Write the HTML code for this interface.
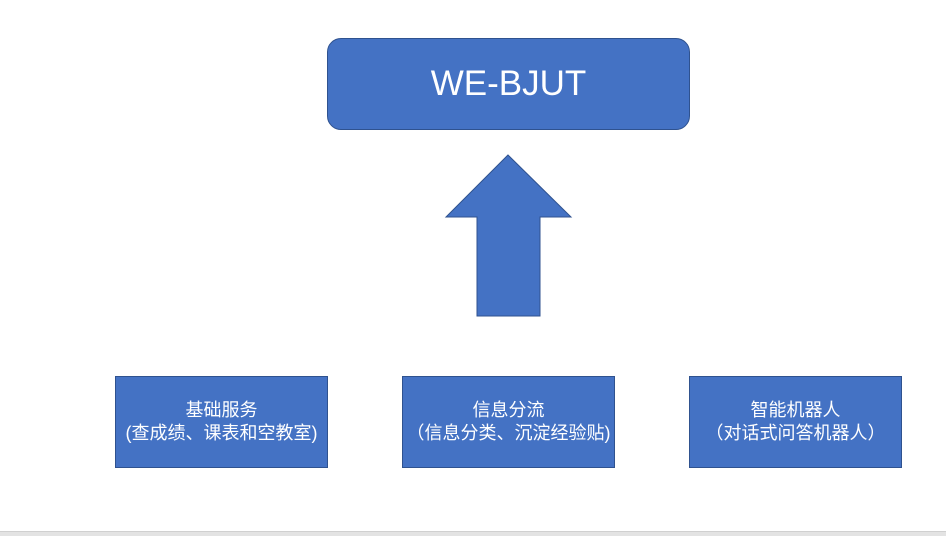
<!DOCTYPE html>
<html><head><meta charset="utf-8"><style>
body{margin:0;width:946px;height:535px;background:#fff;position:relative;overflow:hidden;font-family:"Liberation Sans","Noto Sans CJK SC",sans-serif}
.b{position:absolute;background:#4472c4;border:1px solid #2f528f;box-sizing:border-box;color:#fff;display:flex;align-items:center;justify-content:center;text-align:center}
.s{font-size:18px;line-height:23px;white-space:nowrap}
</style></head><body>
<div class="b" style="left:327px;top:38px;width:363px;height:92px;border-radius:14px;font-size:35px;">WE-BJUT</div>
<svg style="position:absolute;left:0;top:0" width="946" height="535">
<polygon points="508,155 571,217 540,217 540,316 477,316 477,217 446,217" fill="#4472c4" stroke="#2f528f" stroke-width="1"/>
</svg>
<div class="b s" style="left:115px;top:376px;width:213px;height:92px;">基础服务<br>(查成绩、课表和空教室)</div>
<div class="b s" style="left:402px;top:376px;width:213px;height:92px;">信息分流<br>（信息分类、沉淀经验贴)</div>
<div class="b s" style="left:689px;top:376px;width:213px;height:92px;">智能机器人<br>（对话式问答机器人）</div>
<div style="position:absolute;left:0;top:531px;width:946px;height:4px;background:#e3e3e3;border-top:1px solid #d0d0d0"></div>
</body></html>
